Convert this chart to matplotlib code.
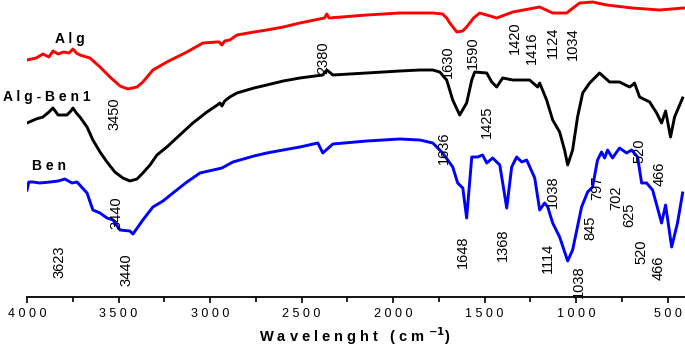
import numpy as np
import matplotlib
matplotlib.use("Agg")
import matplotlib.pyplot as plt

plt.rcParams['font.family'] = ['Liberation Sans', 'DejaVu Sans']

# wavenumber (cm-1) / transmittance (a.u., offset traces)
alg_wn = [4000, 3950, 3913, 3880, 3858, 3830, 3800, 3770, 3749, 3730, 3711, 3656,
          3601, 3547, 3492, 3449, 3399, 3367, 3312, 3236, 3126, 3039, 2963, 2950,
          2935, 2920, 2892, 2853, 2760, 2690, 2600, 2509, 2375, 2362, 2350, 2144,
          1963, 1783, 1730, 1707, 1690, 1652, 1620, 1598, 1560, 1527, 1470, 1434,
          1346, 1199, 1128, 1052, 981, 910, 833, 692, 544, 413]
alg_t = [237, 239, 243, 240, 246, 243, 245, 244, 248, 244, 242, 239,
         230, 220, 211, 208, 210, 215, 227, 235, 245, 254, 255, 255,
         252, 256, 257, 262, 265, 267, 270, 274, 279, 283, 279, 282,
         284, 284, 283, 279, 274, 265, 266, 270, 279, 284, 281, 279,
         285, 290, 284, 284, 294, 295, 292, 289, 287, 289]

algben_wn = [4000, 3950, 3913, 3880, 3858, 3830, 3782, 3760, 3749, 3730, 3711,
             3672, 3640, 3601, 3563, 3520, 3476, 3438, 3399, 3367, 3328, 3290,
             3236, 3165, 3094, 3017, 2960, 2946, 2935, 2920, 2892, 2853, 2760,
             2690, 2600, 2509, 2384, 2362, 2329, 2144, 1963, 1854, 1783, 1745,
             1707, 1674, 1636, 1598, 1570, 1554, 1488, 1461, 1434, 1401, 1346,
             1254, 1210, 1199, 1161, 1128, 1090, 1063, 1046, 1019, 992, 964,
             926, 872, 817, 763, 708, 692, 681, 653, 598, 560, 533, 511, 484,
             462, 418]
algben_t = [174, 178, 180, 185, 189, 182, 182, 186, 189, 184, 180,
            170, 157, 145, 135, 125, 119, 116, 118, 124, 132, 142,
            150, 162, 174, 185, 192, 194, 191, 196, 200, 204, 209,
            212, 216, 219, 222, 227, 222, 224, 226, 227, 227, 225,
            217, 197, 182, 194, 217, 225, 224, 215, 210, 219, 217,
            217, 210, 214, 197, 177, 165, 147, 132, 147, 180, 204,
            214, 224, 215, 215, 210, 212, 214, 200, 195, 184, 174, 186, 160,
            180, 199]

ben_wn = [4000, 3990, 3967, 3930, 3874, 3830, 3793, 3754, 3727, 3672, 3640,
          3601, 3563, 3530, 3492, 3438, 3421, 3367, 3312, 3257, 3203, 3126,
          3055, 2935, 2875, 2760, 2690, 2600, 2509, 2411, 2384, 2329, 2144,
          1963, 1854, 1783, 1729, 1674, 1647, 1619, 1598, 1570, 1538, 1511,
          1488, 1456, 1417, 1401, 1379, 1352, 1325, 1297, 1270, 1226, 1199,
          1172, 1155, 1128, 1090, 1046, 1019, 970, 937, 910, 883, 861, 844,
          828, 801, 763, 724, 697, 664, 642, 615, 582, 533, 511, 478, 446, 418]
ben_t = [107, 115, 115, 114, 115, 116, 118, 114, 115, 104, 87,
         84, 79, 77, 67, 66, 63, 77, 90, 96, 104, 115,
         124, 129, 135, 141, 144, 147, 150, 154, 144, 153, 156,
         158, 157, 154, 144, 130, 114, 109, 79, 140, 140, 142,
         134, 139, 132, 114, 89, 130, 140, 135, 137, 119, 87,
         94, 90, 74, 60, 36, 47, 90, 105, 110, 137, 145, 139,
         147, 139, 149, 144, 147, 140, 114, 114, 107, 74, 92, 50, 74, 104]

x_ticks = [4000, 3500, 3000, 2500, 2000, 1500, 1000, 500]
x_tick_labels = [" ".join(str(t)) for t in x_ticks]

# peak labels: (text, wavenumber, height)
peaks = [("3450", 3520, 183), ("2380", 2384, 239), ("1630", 1701, 235),
         ("1590", 1565, 244), ("1420", 1336, 259), ("1416", 1243, 249),
         ("1124", 1128, 255), ("1034", 1019, 253), ("1425", 1488, 175),
         ("1636", 1723, 149), ("520", 653, 146), ("466", 544, 123),
         ("3440", 3509, 84), ("3623", 3820, 35), ("3440", 3459, 27),
         ("1038", 1128, 105), ("797", 882, 109), ("702", 779, 99),
         ("625", 708, 82), ("845", 921, 69), ("1648", 1619, 45),
         ("1368", 1401, 52), ("1114", 1155, 39), ("1038", 986, 15),
         ("520", 642, 45), ("466", 549, 29)]

fig = plt.figure(figsize=(6.85, 3.47), dpi=100)
ax = fig.add_axes([27 / 685, 50 / 347, 658 / 685, 297 / 347])

ax.plot(alg_wn, alg_t, color="#ff0000", lw=2.1)
ax.plot(algben_wn, algben_t, color="black", lw=2.1)
ax.plot(ben_wn, ben_t, color="#0000ff", lw=2.1)

ax.set_xlim(4000, 405)
ax.set_ylim(0, 297)

for s in ("left", "right", "top"):
    ax.spines[s].set_visible(False)
ax.spines["bottom"].set_linewidth(1.3)
ax.set_yticks([])
ax.set_xticks(x_ticks)
ax.set_xticklabels(x_tick_labels, fontsize=9)
ax.set_xticks([3750, 3250, 2750, 2250, 1750, 1250, 750], minor=True)
ax.tick_params(axis="x", which="major", length=4, width=1.2, pad=4)
ax.tick_params(axis="x", which="minor", length=3.5, width=1.2)

ax.text(3765, 258, "A l g", fontsize=10, fontweight="bold", ha="center", va="center")
ax.text(3891, 200, "A l g - B e n 1", fontsize=10, fontweight="bold", ha="center", va="center")
ax.text(3880, 131, "B e n", fontsize=10, fontweight="bold", ha="center", va="center")

for txt, x, y in peaks:
    ax.text(x, y, txt, fontsize=10.5, rotation=90, ha="center", va="center")

fig.text(355 / 685, 1 - 336 / 347, r"W a v e l e n g h t   ( c m $^{\mathbf{-1}}$)",
         fontsize=10.5, fontweight="bold", ha="center", va="center")

fig.savefig("out.png", dpi=100)
